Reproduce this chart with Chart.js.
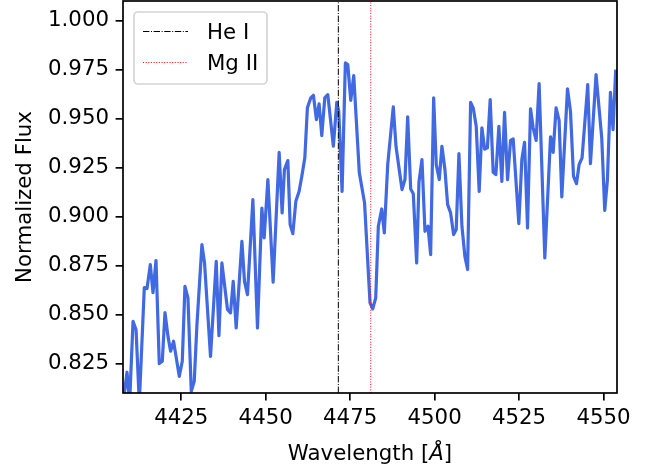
<!DOCTYPE html>
<html>
<head>
<meta charset="utf-8">
<title>Normalized Flux</title>
<script src="https://cdn.jsdelivr.net/npm/chart.js@4.4.0/dist/chart.umd.min.js"></script>
<style>
  html, body { margin: 0; padding: 0; background: #fff; }
  #wrap { width: 660px; height: 471px; }
</style>
</head>
<body>
<div id="wrap"><canvas id="spectrum" width="660" height="471"></canvas></div>
<script>
// spectrum
const wavelength = [
    4407.8, 4408.94, 4409.71, 4410.72, 4411.61, 4412.58, 4414.06, 4414.86, 4415.83, 4416.63,
    4417.52, 4418.49, 4419.38, 4420.18, 4421.07, 4421.84, 4422.72, 4424.41, 4425.30, 4426.09,
    4426.98, 4427.96, 4428.84, 4429.64, 4431.12, 4431.89, 4433.66, 4435.35, 4436.15, 4437.03,
    4438.69, 4439.58, 4440.38, 4441.26, 4442.95, 4443.72, 4444.60, 4446.20, 4447.56, 4448.86,
    4449.54, 4450.64, 4452.20, 4453.98, 4454.86, 4455.54, 4456.55, 4457.23, 4458.03, 4458.92,
    4459.89, 4460.69, 4461.58, 4462.34, 4463.35, 4464.12, 4465.01, 4465.80, 4466.60, 4467.49,
    4468.38, 4470.03, 4471.04, 4471.63, 4472.61, 4473.58, 4474.29, 4475.18, 4476.06, 4477.72,
    4479.26, 4480.88, 4481.68, 4482.57, 4483.34, 4484.34, 4485.11, 4486.12, 4487.77, 4488.57,
    4490.35, 4491.23, 4492.03, 4492.92, 4493.69, 4494.69, 4495.37, 4496.26, 4497.15, 4498.03,
    4498.83, 4499.72, 4500.49, 4501.38, 4502.17, 4503.06, 4503.86, 4504.74, 4505.63, 4506.40,
    4507.20, 4508.09, 4508.97, 4509.77, 4510.66, 4511.43, 4512.32, 4513.20, 4514.00, 4514.83,
    4515.63, 4516.46, 4517.34, 4518.14, 4519.03, 4519.91, 4520.71, 4521.60, 4522.49, 4523.26,
    4524.94, 4525.83, 4526.63, 4527.51, 4528.40, 4529.17, 4530.06, 4530.94, 4532.63, 4534.32,
    4535.09, 4535.97, 4536.86, 4537.66, 4539.34, 4540.23, 4541.12, 4542.00, 4542.77, 4543.66,
    4545.34, 4546.14, 4547.80, 4549.48, 4550.37, 4551.17, 4552.06, 4552.83, 4553.62
];
const flux = [
    0.805, 0.8206, 0.805, 0.8466, 0.8423, 0.805, 0.8638, 0.8633, 0.8755, 0.8612,
    0.8776, 0.825, 0.8262, 0.851, 0.8389, 0.8313, 0.8364, 0.8185, 0.8262, 0.8644,
    0.8585, 0.8109, 0.816, 0.8449, 0.8857, 0.8764, 0.8287, 0.8772, 0.8393, 0.8764,
    0.8526, 0.8509, 0.867, 0.8432, 0.8874, 0.867, 0.8602, 0.9087, 0.8432, 0.9044,
    0.8891, 0.9189, 0.8665, 0.9328, 0.9019, 0.924, 0.9286, 0.8959, 0.8913, 0.9078,
    0.9129, 0.9206, 0.93, 0.9555, 0.9606, 0.9619, 0.9495, 0.9575, 0.9413, 0.9606,
    0.9622, 0.9359, 0.9583, 0.9537, 0.9129, 0.9784, 0.9776, 0.9593, 0.9719, 0.9223,
    0.9071, 0.856, 0.8529, 0.8585, 0.8951, 0.9039, 0.8917, 0.9265, 0.956, 0.9359,
    0.9138, 0.9189, 0.9509, 0.9141, 0.9117, 0.8764, 0.9175, 0.9291, 0.8925, 0.8951,
    0.8806, 0.9606, 0.9265, 0.9189, 0.9359, 0.924, 0.9061, 0.9019, 0.8908, 0.8934,
    0.9321, 0.8951, 0.8797, 0.873, 0.9583, 0.9555, 0.9461, 0.9129, 0.9453, 0.9344,
    0.9351, 0.9597, 0.9226, 0.9214, 0.9461, 0.918, 0.9532, 0.9189, 0.9389, 0.9396,
    0.8964, 0.9291, 0.9379, 0.8942, 0.955, 0.9453, 0.9389, 0.9679, 0.8789, 0.9407,
    0.9328, 0.9555, 0.9491, 0.91, 0.9652, 0.9537, 0.9206, 0.9168, 0.9265, 0.93,
    0.9673, 0.927, 0.9724, 0.9402, 0.9032, 0.9189, 0.9634, 0.9444, 0.975
];

const lineNames = ['He I', 'Mg II'];
const lineWavelengths = [4471.5, 4481.1];
const xTicks = [4425, 4450, 4475, 4500, 4525, 4550];
const yTicks = [0.825, 0.850, 0.875, 0.900, 0.925, 0.950, 0.975, 1.000];
const xRange = [4407.75, 4554.0];
const yRange = [0.81, 1.01];

const FONT = '"DejaVu Sans"';
const FONT_SIZE = 21.3;
Chart.defaults.font.family = FONT;
Chart.defaults.font.size = FONT_SIZE;
Chart.defaults.color = '#000';

let lineStyles = [
    { color: '#000000', dash: [6.4, 1.6, 1, 1.6] },
    { color: '#ff0000', dash: [1, 1.65] }
];

// box round the plot area, like matplotlib spines
const framePlugin = {
    id: 'frame',
    afterDatasetsDraw(chart) {
        let ctx = chart.ctx;
        let a = chart.chartArea;
        ctx.save();
        ctx.strokeStyle = '#000';
        ctx.lineWidth = 1.7;
        ctx.strokeRect(a.left, a.top, a.right - a.left, a.bottom - a.top);
        ctx.restore();
    }
};

// x label with an italic Angstrom sign
const xTitlePlugin = {
    id: 'xTitle',
    afterDraw(chart) {
        let ctx = chart.ctx;
        let a = chart.chartArea;
        let parts = [['Wavelength [', 'normal'], ['Å', 'italic'], [']', 'normal']];
        ctx.save();
        let total = 0;
        parts.forEach(p => {
            ctx.font = p[1] + ' ' + FONT_SIZE + 'px ' + FONT;
            total += ctx.measureText(p[0]).width;
        });
        let x = (a.left + a.right) / 2 - total / 2;
        ctx.fillStyle = '#000';
        ctx.textBaseline = 'alphabetic';
        ctx.textAlign = 'left';
        parts.forEach(p => {
            ctx.font = p[1] + ' ' + FONT_SIZE + 'px ' + FONT;
            ctx.fillText(p[0], x, 460);
            x += ctx.measureText(p[0]).width;
        });
        ctx.restore();
    }
};

const legendPlugin = {
    id: 'boxLegend',
    afterDraw(chart) {
        let ctx = chart.ctx;
        let bx = 134, by = 12, bw = 133, bh = 72, r = 4;
        ctx.save();
        ctx.beginPath();
        ctx.moveTo(bx + r, by);
        ctx.lineTo(bx + bw - r, by);
        ctx.arcTo(bx + bw, by, bx + bw, by + r, r);
        ctx.lineTo(bx + bw, by + bh - r);
        ctx.arcTo(bx + bw, by + bh, bx + bw - r, by + bh, r);
        ctx.lineTo(bx + r, by + bh);
        ctx.arcTo(bx, by + bh, bx, by + bh - r, r);
        ctx.lineTo(bx, by + r);
        ctx.arcTo(bx, by, bx + r, by, r);
        ctx.closePath();
        ctx.fillStyle = 'rgba(255,255,255,0.8)';
        ctx.fill();
        ctx.strokeStyle = '#d5d5d5';
        ctx.lineWidth = 1.7;
        ctx.stroke();

        for (let i = 0; i < lineNames.length; i++) {
            let y = 31 + i * 31;
            ctx.beginPath();
            ctx.setLineDash(lineStyles[i].dash);
            ctx.strokeStyle = lineStyles[i].color;
            ctx.lineWidth = 1;
            ctx.moveTo(143, y + 0.5);
            ctx.lineTo(188, y + 0.5);
            ctx.stroke();
            ctx.setLineDash([]);
            ctx.fillStyle = '#000';
            ctx.font = FONT_SIZE + 'px ' + FONT;
            ctx.textBaseline = 'alphabetic';
            ctx.fillText(lineNames[i], 207, y + 7.7);
        }
        ctx.restore();
    }
};

function fixedTicks(list) {
    return function (scale) {
        scale.ticks = list.map(v => ({ value: v }));
    };
}

let datasets = [];
for (let i = 0; i < lineNames.length; i++) {
    datasets.push({
        label: lineNames[i],
        data: [{ x: lineWavelengths[i], y: yRange[0] }, { x: lineWavelengths[i], y: yRange[1] }],
        borderColor: lineStyles[i].color,
        borderWidth: 1,
        borderDash: lineStyles[i].dash,
        pointRadius: 0
    });
}
datasets.push({
    label: 'spectrum',
    data: wavelength.map((w, i) => ({ x: w, y: flux[i] })),
    borderColor: '#4169e1',
    borderWidth: 3.2,
    borderJoinStyle: 'round',
    pointRadius: 0,
    tension: 0
});

let ctx = document.getElementById('spectrum').getContext('2d');
let spectrumChart = new Chart(ctx, {
    type: 'line',
    data: { datasets: datasets },
    options: {
        responsive: false,
        animation: false,
        devicePixelRatio: 1,
        layout: { padding: { top: 1, right: 43, left: 0, bottom: 0 } },
        plugins: {
            legend: { display: false },
            tooltip: { enabled: false }
        },
        scales: {
            x: {
                type: 'linear',
                min: xRange[0],
                max: xRange[1],
                afterBuildTicks: fixedTicks(xTicks),
                afterFit: function (scale) {
                    scale.height = 78;
                    scale.paddingLeft = 0;
                    scale.paddingRight = 0;
                },
                border: { display: false },
                grid: { drawOnChartArea: false, color: '#000', lineWidth: 1.7, tickLength: 7.4 },
                ticks: { padding: 5, maxRotation: 0, callback: v => String(v) }
            },
            y: {
                type: 'linear',
                min: yRange[0],
                max: yRange[1],
                afterBuildTicks: fixedTicks(yTicks),
                afterFit: function (scale) {
                    scale.width = 123;
                    scale.paddingTop = 0;
                    scale.paddingBottom = 0;
                },
                border: { display: false },
                grid: { drawOnChartArea: false, color: '#000', lineWidth: 1.7, tickLength: 7.4 },
                ticks: { padding: 6.6, callback: v => v.toFixed(3) },
                title: { display: true, text: 'Normalized Flux', padding: { top: 13, bottom: 0 } }
            }
        }
    },
    plugins: [framePlugin, xTitlePlugin, legendPlugin]
});
</script>
</body>
</html>
